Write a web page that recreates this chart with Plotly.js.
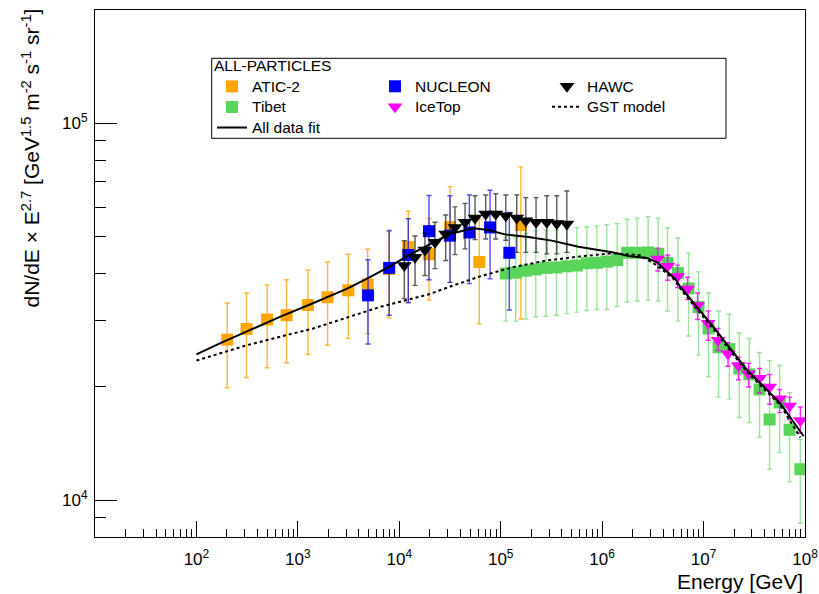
<!DOCTYPE html>
<html><head><meta charset="utf-8">
<script src="https://cdn.plot.ly/plotly-3.0.1.min.js"></script>
<style>html,body{margin:0;padding:0;background:#fff}#chart{width:819px;height:594px}</style>
</head><body><div id="chart"></div>
<script>
// ---------------- data ----------------
const aticE  = [201, 312, 498, 774, 1256, 1963, 3140, 4875, 7900, 12270, 19630, 31700, 61500, 157800];
const aticF  = [26700, 28500, 30200, 31000, 33000, 34600, 36100, 37400, 41100, 47000, 45000, 53100, 42900, 53800];
const aticUp = [33400, 35500, 37300, 38500, 40900, 42900, 45000, 46400, 51700, 58500, 56000, 68000, 55800, 76700];
const aticLo = [19900, 21200, 22500, 23200, 24400, 25800, 26900, 27700, 30500, 33400, 34000, 37900, 29400, 30300];

const nucE  = [4920, 7960, 12270, 19630, 31600, 49100, 78500, 121600];
const nucF  = [35000, 41400, 44800, 51800, 50400, 51400, 53000, 45400];
const nucUp = [43500, 52000, 55900, 64400, 64300, 64600, 66500, 58100];
const nucLo = [26000, 31000, 33500, 38500, 37900, 37600, 38700, 32000];

const hawcE  = [11200, 14300, 17900, 22500, 28700, 35400, 44500, 55800, 71100, 89300, 112200, 143900, 176600, 223000, 284600, 357000, 448700];
const hawcF  = [42000, 44200, 46200, 48400, 50900, 53000, 54700, 56100, 57500, 57500, 56900, 56100, 55200, 54700, 54700, 54300, 54100];
const hawcUp = [48900, 50300, 51100, 54700, 57200, 60100, 61400, 64300, 64600, 65100, 64600, 64600, 63600, 63600, 64300, 64300, 66200];
const hawcLo = [34300, 37200, 39500, 41200, 43300, 44900, 46500, 49200, 49400, 49400, 49000, 45500, 45500, 45500, 45100, 45100, 45500];

const tibetE  = [112200, 140600, 176600, 221600, 278200, 353800, 448300, 562800, 706000, 886500, 1.112e6, 1.406e6, 1.765e6, 2.215e6, 2.842e6, 3.570e6, 4.410e6, 5.580e6, 7.110e6, 8.920e6, 1.119e7, 1.405e7, 1.792e7, 2.250e7, 2.824e7, 3.567e7, 4.478e7, 5.620e7, 7.05e7, 9.0e7];
const tibetF  = [40000, 40200, 40700, 41000, 41400, 41500, 41800, 42000, 42600, 42700, 43000, 43400, 45400, 45400, 45500, 45100, 42700, 40100, 36500, 32600, 28600, 25500, 25200, 22400, 21600, 19700, 16400, 18200, 15400, 12100];
const tibetUp = [49900, 49900, 51100, 51900, 52200, 52200, 52500, 53000, 53200, 53500, 53900, 54300, 55700, 56100, 56600, 56100, 52800, 49700, 45300, 40400, 35500, 31800, 31200, 27800, 26900, 24700, 23500, 22800, 19300, 14500];
const tibetLo = [29900, 29900, 30300, 30700, 30800, 31000, 31300, 31600, 31900, 32100, 32100, 32700, 33600, 33800, 34000, 33800, 31800, 29900, 27300, 24300, 21300, 18800, 18600, 16600, 16100, 14700, 12100, 13400, 11200, 8700];

const iceE  = [3.53e6, 4.42e6, 5.54e6, 6.95e6, 8.72e6, 1.11e7, 1.39e7, 1.74e7, 2.21e7, 2.78e7, 3.57e7, 4.48e7, 5.62e7, 7.05e7, 9.0e7];
const iceF  = [43700, 41800, 39300, 36400, 32900, 29500, 26600, 24500, 22800, 21700, 21100, 20000, 18600, 17800, 16300];
const iceUp = [46700, 44800, 42100, 39100, 35500, 31800, 28600, 26200, 24000, 23100, 22400, 21600, 19700, 18800, 17700];
const iceLo = [40600, 38400, 36700, 34100, 30200, 26600, 25000, 22700, 20900, 20000, 19300, 18000, 17100, 16400, 15100];

const fitE = [100, 170, 336, 665, 1315, 3030, 4760, 8090, 12700, 20000, 31600, 53700, 75500, 110000, 187500, 319000, 583000, 1.29e6, 1.82e6, 2.76e6, 3.6e6, 3.88e6, 5.26e6, 5.89e6, 1.26e7, 2.68e7, 5.71e7, 9.7e7];
const fitF = [24400, 26100, 28300, 30700, 33100, 36400, 38700, 41800, 44900, 47900, 50900, 52700, 52200, 50800, 50000, 48900, 47100, 45500, 44500, 44000, 42600, 41600, 38700, 36900, 28800, 22200, 18100, 14800];

const gstE = [100, 312, 1416, 6440, 20000, 30500, 62500, 133400, 284400, 606700, 1.294e6, 2.37e6, 3.47e6, 5.06e6, 6.12e6, 1.26e7, 2.68e7, 5.71e7, 9.0e7];
const gstF = [23500, 25800, 28600, 32600, 35300, 36800, 39300, 41600, 43300, 44400, 45300, 44700, 42000, 38700, 36000, 28400, 21900, 17900, 14700];

const xTickVals = [1e2, 1e3, 1e4, 1e5, 1e6, 1e7, 1e8];
const xTickText = ['10<sup>2</sup>', '10<sup>3</sup>', '10<sup>4</sup>', '10<sup>5</sup>', '10<sup>6</sup>', '10<sup>7</sup>', '10<sup>8</sup>'];
const yTickVals = [1e4, 1e5];
const yTickText = ['10<sup>4</sup>', '10<sup>5</sup>'];

// ---------------- layout helpers ----------------
const W = 819, H = 594, ML = 95, MR = 14, MT = 10, MB = 57;
const PW = W - ML - MR, PH = H - MT - MB;
const px2x = p => (p - ML) / PW;
const px2y = p => (H - MB - p) / PH;
const FONT = 'Liberation Sans, Arial, Helvetica, sans-serif';

function minorTicks(d0, d1) {
  const v = [];
  for (let d = d0; d <= d1; d++) for (let k = 2; k <= 9; k++) v.push(k * Math.pow(10, d));
  return v;
}
const leg = t => '<span style="font-size:15.5px">' + t + '</span>';

function errTrace(name, E, F, up, lo, sym, size, color, barColor, legend) {
  return {
    type: 'scatter', mode: 'markers', name: leg(name), legend: legend,
    x: E, y: F,
    marker: {symbol: sym, size: size, color: color, line: {width: 0}},
    error_y: {type: 'data', symmetric: false,
      array: up.map((u, i) => u - F[i]), arrayminus: F.map((f, i) => f - lo[i]),
      color: barColor, thickness: 1.4, width: 2.5},
    hoverinfo: 'x+y'
  };
}

const traces = [
  errTrace('ATIC-2', aticE, aticF, aticUp, aticLo, 'square', 12, '#FFA500', 'rgba(255,165,0,0.8)', 'legend'),
  errTrace('Tibet', tibetE, tibetF, tibetUp, tibetLo, 'square', 12, '#58D458', 'rgba(88,212,88,0.6)', 'legend'),
  errTrace('NUCLEON', nucE, nucF, nucUp, nucLo, 'square', 12, '#0000FF', 'rgba(0,0,255,0.7)', 'legend2'),
  errTrace('IceTop', iceE, iceF, iceUp, iceLo, 'triangle-down', 13, '#FF00FF', 'rgba(255,0,255,0.85)', 'legend2'),
  errTrace('HAWC', hawcE, hawcF, hawcUp, hawcLo, 'triangle-down', 13, '#000000', 'rgba(0,0,0,0.65)', 'legend3'),
  {type: 'scatter', mode: 'lines', name: leg('GST model'), legend: 'legend3', x: gstE, y: gstF,
   line: {color: '#000', width: 2, dash: 'dot'}},
  {type: 'scatter', mode: 'lines', name: leg('All data fit'), legend: 'legend', x: fitE, y: fitF,
   line: {color: '#000', width: 2}}
];

const axisCommon = {
  type: 'log', showgrid: false, zeroline: false,
  showline: true, mirror: true, linecolor: '#000', linewidth: 1,
  ticks: 'inside', tickcolor: '#000', tickwidth: 1,
  tickmode: 'array', tickfont: {family: FONT, size: 17, color: '#000'}
};

const legCommon = {
  xanchor: 'left', yanchor: 'top', bgcolor: 'rgba(0,0,0,0)', borderwidth: 0,
  font: {family: FONT, size: 13.5, color: '#000'}, itemwidth: 30, tracegroupgap: 0,
  traceorder: 'normal'
};

const layout = {
  width: W, height: H,
  margin: {l: ML, r: MR, t: MT, b: MB, pad: 0},
  paper_bgcolor: '#fff', plot_bgcolor: '#fff',
  font: {family: FONT, color: '#000'},
  showlegend: true,
  xaxis: Object.assign({}, axisCommon, {
    range: [1, 8], tickvals: xTickVals, ticktext: xTickText, ticklen: 16, ticklabelstandoff: 7,
    minor: {tickmode: 'array', tickvals: minorTicks(1, 7), ticks: 'inside', ticklen: 8, tickcolor: '#000', tickwidth: 1}
  }),
  yaxis: Object.assign({}, axisCommon, {
    range: [Math.log10(8000), Math.log10(2e5)], tickvals: yTickVals, ticktext: yTickText, ticklen: 22, ticklabelstandoff: 3,
    minor: {tickmode: 'array', tickvals: [9000].concat(minorTicks(4, 4)), ticks: 'inside', ticklen: 11, tickcolor: '#000', tickwidth: 1}
  }),
  legend: Object.assign({}, legCommon, {x: px2x(212), y: px2y(51),
    title: {text: 'ALL-PARTICLES', font: {family: FONT, size: 15.5, color: '#000'}}}),
  legend2: Object.assign({}, legCommon, {x: px2x(375), y: px2y(71)}),
  legend3: Object.assign({}, legCommon, {x: px2x(547), y: px2y(71)}),
  shapes: [{type: 'rect', xref: 'paper', yref: 'paper',
    x0: px2x(211.7), x1: px2x(726), y0: px2y(138.3), y1: px2y(58.3),
    line: {color: '#000', width: 1}, fillcolor: '#fff', layer: 'above'}],
  annotations: [
    {xref: 'paper', yref: 'paper', x: px2x(30), y: px2y(7), xanchor: 'center', yanchor: 'top',
     textangle: -90, showarrow: false,
     text: 'dN/dE × E<sup>2.7</sup> [GeV<sup>1.5</sup> m<sup>-2</sup> s<sup>-1</sup> sr<sup>-1</sup>]',
     font: {family: FONT, size: 21, color: '#000'}},
    {xref: 'paper', yref: 'paper', x: 1, y: 0, xanchor: 'right', yanchor: 'top', yshift: -31,
     showarrow: false, text: 'Energy [GeV]', font: {family: FONT, size: 21, color: '#000'}}
  ]
};

Plotly.newPlot('chart', traces, layout, {staticPlot: true, displayModeBar: false});
</script>
</body></html>
